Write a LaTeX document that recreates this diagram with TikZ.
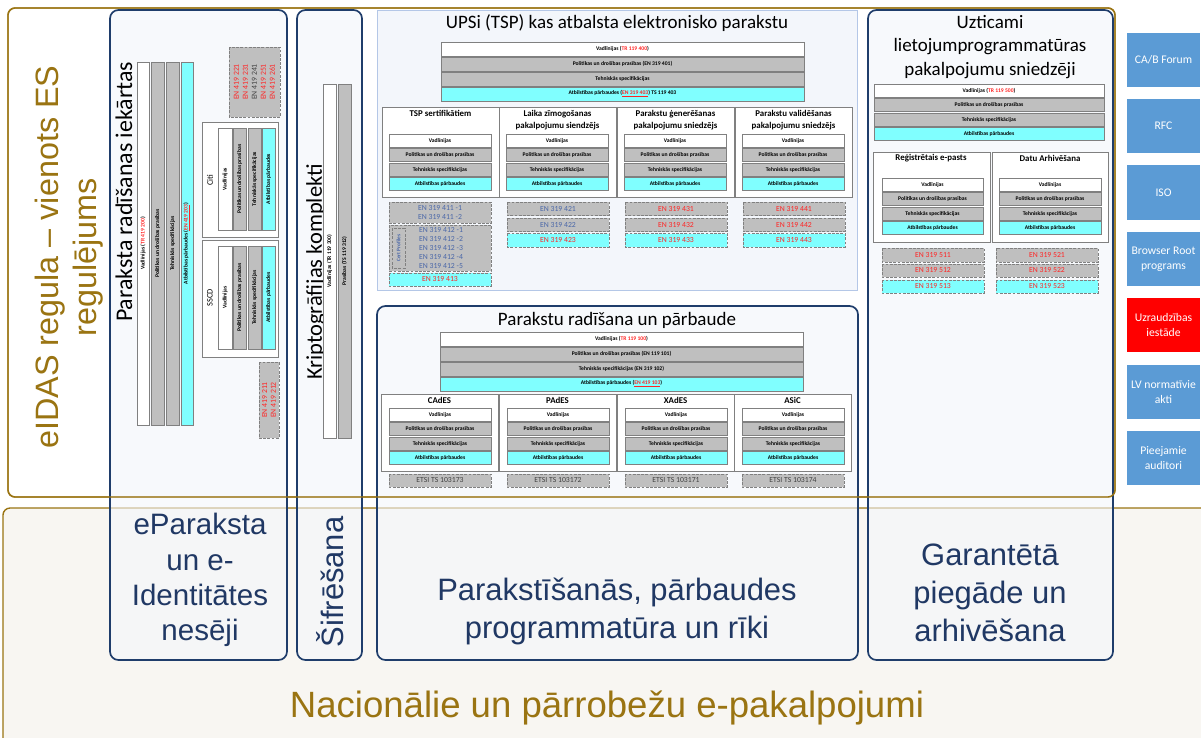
\documentclass[tikz,border=0pt]{standalone}
\usepackage{fontspec}
\setmainfont{Carlito}
\newfontfamily\arialfont{Liberation Sans}

\definecolor{eidasgold}{HTML}{9A7412}
\definecolor{boxblue}{HTML}{1F3D6B}
\definecolor{labelblue}{HTML}{203864}
\definecolor{barcyan}{HTML}{80FFFF}
\definecolor{bargray}{HTML}{BFBFBF}
\definecolor{barline}{HTML}{808080}
\definecolor{stdred}{HTML}{FF2424}
\definecolor{stdblue}{HTML}{4A67A8}
\definecolor{sideblue}{HTML}{5B9BD5}
\definecolor{panelfill}{HTML}{F3F6FB}
\definecolor{panelline}{HTML}{B4C7E7}
\definecolor{groundfill}{HTML}{F8F6F2}

\tikzset{
  goldframe/.style={draw=eidasgold, line width=1pt, rounded corners=5pt},
  section/.style={draw=boxblue, line width=1.2pt, rounded corners=6pt, fill=panelfill, fill opacity=0.6},
  whitebar/.style={draw=barline, fill=white, line width=0.5pt},
  graybar/.style={draw=barline, fill=bargray, line width=0.5pt},
  cyanbar/.style={draw=barline, fill=barcyan, line width=0.5pt},
  stdbox/.style={draw=barline, fill=bargray, dashed, dash pattern=on 2pt off 1pt, line width=0.6pt},
  stdcyan/.style={stdbox, fill=barcyan},
  subpanel/.style={draw=barline, fill=white, line width=0.6pt},
  bartext/.style={font=\fontsize{4}{4.6}\selectfont\bfseries, inner sep=0pt, align=center},
  stdtext/.style={font=\fontsize{5.5}{6.3}\selectfont, inner sep=0pt, align=center},
  subtitle/.style={font=\fontsize{6.3}{8.6}\selectfont\bfseries, inner sep=0pt, align=center},
  heading/.style={font=\fontsize{13.5}{16.7}\selectfont, inner sep=0pt, align=center},
  biglabel/.style={font=\arialfont\fontsize{22}{27}\selectfont, text=labelblue, inner sep=0pt, align=center},
  sidetext/.style={font=\fontsize{8.3}{10.5}\selectfont, text=white, inner sep=0pt, align=center,
    minimum width=1.825cm, minimum height=1.35cm}
}

% box with a named text node in its middle
\newcommand{\pcell}[8][]{%
  \draw[#3] (#4,#5) rectangle (#6,#7);
  \node[bartext,#1] (#2) at ({(#4+#6)/2},{(#5+#7)/2}) {#8};}

% the usual four layers, stacked downwards
\newcommand{\fourbars}[4]{%
  \pcell{#1v}{whitebar}{#2}{#4}{#3}{#4+13}{Vadlīnijas}
  \pcell{#1p}{graybar}{#2}{#4+14.5}{#3}{#4+27.5}{Politikas un drošības prasības}
  \pcell{#1t}{graybar}{#2}{#4+29}{#3}{#4+42}{Tehniskās specifikācijas}
  \pcell{#1a}{cyanbar}{#2}{#4+43.5}{#3}{#4+56.5}{Atbilstības pārbaudes}}

% the same four layers, side by side and turned
\newcommand{\fourbarsup}[4]{%
  \pcell[rotate=90]{#1v}{whitebar}{#2}{#3}{#2+14}{#4}{Vadlīnijas}
  \pcell[rotate=90]{#1p}{graybar}{#2+15}{#3}{#2+28}{#4}{Politikas un drošības prasības}
  \pcell[rotate=90]{#1t}{graybar}{#2+30}{#3}{#2+43}{#4}{Tehniskās specifikācijas}
  \pcell[rotate=90]{#1a}{cyanbar}{#2+44}{#3}{#2+57}{#4}{Atbilstības pārbaudes}}

\begin{document}
\begin{tikzpicture}[x=0.025cm, y=-0.025cm]
    \useasboundingbox (0,0) rectangle (1201,737);
    \clip (0,0) rectangle (1201,737);

    %% National services
    \draw[goldframe, fill=groundfill] (3,508) rectangle (1240,770);
    \node[font=\arialfont\fontsize{26}{30}\selectfont, text=eidasgold] (national) at (607,708) {Nacionālie un pārrobežu e-pakalpojumi};

    %% eIDAS frame
    \draw[goldframe, fill=white] (8,8) rectangle (1115,497);
    \node[rotate=90, font=\arialfont\fontsize{23}{27}\selectfont, text=eidasgold, align=center] (eidas) at (69,257) {eIDAS regula – vienots ES\\regulējums};

    % Sections
    \draw[section] (110,10) rectangle (287,660);
    \draw[section] (297,10) rectangle (362,660);
    \draw[section] (377,306) rectangle (858,660);
    \draw[section] (868,10) rectangle (1113,660);
    \draw[draw=panelline, fill=panelfill, line width=0.6pt] (377,10) rectangle (857,290);
    \draw[goldframe] (8,8) rectangle (1115,497);

    %% Signature creation devices
    \node[rotate=90, font=\fontsize{17}{20}\selectfont] (sscdtitle) at (124,192) {Paraksta radīšanas iekārtas};
    \pcell[rotate=90]{devv}{whitebar}{137}{62}{149}{425}{Vadlīnijas (\textcolor{stdred}{TR 419 200})}
    \pcell[rotate=90]{devp}{graybar}{151}{62}{164}{425}{Politikas un drošības prasības}
    \pcell[rotate=90]{devt}{graybar}{166}{62}{179}{425}{Tehniskās specifikācijas}
    \pcell[rotate=90]{deva}{cyanbar}{181}{62}{193}{425}{Atbilstības pārbaudes (\textcolor{stdred}{\underline{EN 419 203}})}
    \pcell[rotate=90, stdtext, text=darkgray, font=\fontsize{5.5}{6.4}\selectfont]{en4192}{stdbox}{229}{47}{280}{117}{\textcolor{stdred}{EN 419 221}\\\textcolor{stdred}{EN 419 231}\\EN 419 241\\\textcolor{stdred}{EN 419 251}\\\textcolor{stdred}{EN 419 261}}
    % Citi
    \draw[subpanel] (202,122) rectangle (278,237);
    \node[rotate=90, font=\fontsize{6}{7}\selectfont] (citi) at (210,180) {Citi};
    \fourbarsup{citib}{218}{128}{230}
    % SSCD
    \draw[subpanel] (202,240) rectangle (278,357);
    \node[rotate=90, font=\fontsize{6}{7}\selectfont] (sscd) at (210,298) {SSCD};
    \fourbarsup{sscdb}{218}{246}{349}
    \pcell[rotate=90, stdtext, text=stdred]{en4191}{stdbox}{259}{362}{279}{438}{EN 419 211\\EN 419 212}

    %% Crypto suites
    \node[rotate=90, font=\fontsize{16}{18}\selectfont] (crypto) at (316,272) {Kriptogrāfijas komplekti};
    \pcell[rotate=90]{cryptov}{whitebar}{323}{84}{336}{438}{Vadlīnijas (TR 119 300)}
    \pcell[rotate=90]{cryptop}{graybar}{338}{84}{351}{438}{Prasības (TS 119 312)}

    %% Trust service providers
    \node[heading] (tsptitle) at (617,23) {UPSi (TSP) kas atbalsta elektronisko parakstu};
    \pcell{tspv}{whitebar}{441}{42}{804}{56}{Vadlīnijas (\textcolor{stdred}{TR 119 400})}
    \pcell{tspp}{graybar}{441}{57}{804}{71}{Politikas un drošības prasības (EN 319 401)}
    \pcell{tspt}{graybar}{441}{72}{804}{86}{Tehniskās specifikācijas}
    \pcell{tspa}{cyanbar}{441}{87}{804}{101}{Atbilstības pārbaudes (\textcolor{stdred}{\underline{EN 319 403}}) TS 119 403}
    \foreach \xa/\ttl [count=\i] in {382/{TSP sertifikātiem}, 499/{Laika zīmogošanas\\pakalpojumu siendzējs}, 617/{Parakstu ģenerēšanas\\pakalpojumu sniedzējs}, 735/{Parakstu validēšanas\\pakalpojumu sniedzējs}}{
        \draw[subpanel] (\xa,107) rectangle (\xa+117,197);
        \node[subtitle, anchor=north] (tsp\i) at (\xa+58.5,110) {\ttl};
        \fourbars{tspb\i}{\xa+7}{\xa+109}{134}
    }
    % Certificates
    \pcell[stdtext, text=stdblue]{en411}{stdbox}{389}{202}{491}{223}{EN 319 411 -1\\EN 319 411 -2}
    \draw[stdbox] (389,225) rectangle (491,271);
    \pcell[rotate=90, bartext, text=stdblue, font=\fontsize{3.8}{4.5}\selectfont\bfseries]{certprof}{stdbox, fill=none}{392}{228}{405}{268}{Cert Profiles}
    \node[stdtext, text=stdblue, font=\fontsize{5.5}{6.5}\selectfont] (en412) at (441,248) {EN 319 412 -1\\EN 319 412 -2\\EN 319 412 -3\\EN 319 412 -4\\EN 319 412 -5};
    \pcell[stdtext, text=stdred]{en413}{stdcyan}{389}{273}{491}{286}{EN 319 413}
    % Time stamps
    \pcell[stdtext, text=stdblue]{en421}{stdbox}{507}{202}{609}{215.5}{EN 319 421}
    \pcell[stdtext, text=stdblue]{en422}{stdbox}{507}{218}{609}{231.5}{EN 319 422}
    \pcell[stdtext, text=stdred]{en423}{stdcyan}{507}{233.5}{609}{247}{EN 319 423}
    % Signature generation
    \pcell[stdtext, text=stdred]{en431}{stdbox}{625}{202}{727}{215.5}{EN 319 431}
    \pcell[stdtext, text=stdred]{en432}{stdbox}{625}{218}{727}{231.5}{EN 319 432}
    \pcell[stdtext, text=stdred]{en433}{stdcyan}{625}{233.5}{727}{247}{EN 319 433}
    % Signature validation
    \pcell[stdtext, text=stdred]{en441}{stdbox}{743}{202}{845}{215.5}{EN 319 441}
    \pcell[stdtext, text=stdred]{en442}{stdbox}{743}{218}{845}{231.5}{EN 319 442}
    \pcell[stdtext, text=stdred]{en443}{stdcyan}{743}{233.5}{845}{247}{EN 319 443}

    %% Signature creation and validation
    \node[heading] (sigtitle) at (617,320) {Parakstu radīšana un pārbaude};
    \pcell{sigv}{whitebar}{440}{332}{803}{346}{Vadlīnijas (\textcolor{stdred}{TR 119 100})}
    \pcell{sigp}{graybar}{440}{347}{803}{361}{Politikas un drošības prasības (EN 119 101)}
    \pcell{sigt}{graybar}{440}{362}{803}{376}{Tehniskās specifikācijas (EN 319 102)}
    \pcell{siga}{cyanbar}{440}{377}{803}{391}{Atbilstības pārbaudes (\textcolor{stdred}{\underline{EN 419 103}})}
    \foreach \xa/\fmt/\etsi [count=\i] in {381/CAdES/103173, 499/PAdES/103172, 617/XAdES/103171, 734/ASiC/103174}{
        \draw[subpanel] (\xa,394) rectangle (\xa+117,471);
        \node[subtitle, anchor=north] (fmt\i) at (\xa+58.5,397) {\fmt};
        \fourbars{fmtb\i}{\xa+8}{\xa+110}{408}
        \pcell[stdtext, text=darkgray]{etsi\i}{stdbox}{\xa+8}{474}{\xa+110}{487}{ETSI TS \etsi}
    }

    %% Trusted application service providers
    \node[heading] (apptitle) at (990,47) {Uzticami\\lietojumprogrammatūras\\pakalpojumu sniedzēji};
    \pcell{appv}{whitebar}{874}{84}{1104}{97}{Vadlīnijas (\textcolor{stdred}{TR 119 500})}
    \pcell{appp}{graybar}{874}{98.5}{1104}{111.5}{Politikas un drošības prasības}
    \pcell{appt}{graybar}{874}{113}{1104}{126}{Tehniskās specifikācijas}
    \pcell{appa}{cyanbar}{874}{127.5}{1104}{140.5}{Atbilstības pārbaudes}
    % Registered e-mail
    \draw[subpanel] (873,152) rectangle (990,242);
    \node[subtitle] (remail) at (931,158.5) {Reģistrētais e-pasts};
    \fourbars{remailb}{882}{983}{178}
    \pcell[stdtext, text=stdred]{en511}{stdbox}{882}{248}{984}{262}{EN 319 511}
    \pcell[stdtext, text=stdred]{en512}{stdbox}{882}{264}{984}{277}{EN 319 512}
    \pcell[stdtext, text=stdred]{en513}{stdcyan}{882}{280}{984}{293}{EN 319 513}
    % Data archiving
    \draw[subpanel] (992,152) rectangle (1108,242);
    \node[subtitle] (archive) at (1050,158.5) {Datu Arhivēšana};
    \fourbars{archiveb}{999}{1101}{178}
    \pcell[stdtext, text=stdred]{en521}{stdbox}{996}{248}{1098}{262}{EN 319 521}
    \pcell[stdtext, text=stdred]{en522}{stdbox}{996}{264}{1098}{277}{EN 319 522}
    \pcell[stdtext, text=stdred]{en523}{stdcyan}{996}{280}{1098}{293}{EN 319 523}

    %% Lower labels
    \node[biglabel, font=\arialfont\fontsize{21}{25}\selectfont] (tokens) at (200,580) {eParaksta\\un e-\\Identitātes\\nesēji};
    \node[biglabel, rotate=90] (encrypt) at (330,582) {Šifrēšana};
    \node[biglabel] (tools) at (617,611) {Parakstīšanās, pārbaudes\\programmatūra un rīki};
    \node[biglabel] (delivery) at (990,593) {Garantētā\\piegāde un\\arhivēšana};

    %% Other bodies
    \foreach \lbl [count=\i from 0] in {{CA/B Forum}, RFC, ISO, {Browser Root\\programs}, {Uzraudzības\\iestāde}, {LV normatīvie\\akti}, {Pieejamie\\auditori}}{
        \ifnum\i=4 \def\sidecol{red}\else\def\sidecol{sideblue}\fi
        \node[sidetext, fill=\sidecol] (side\i) at (1163.5,59.7+66.4*\i) {\lbl};
    }

\end{tikzpicture}
\end{document}
